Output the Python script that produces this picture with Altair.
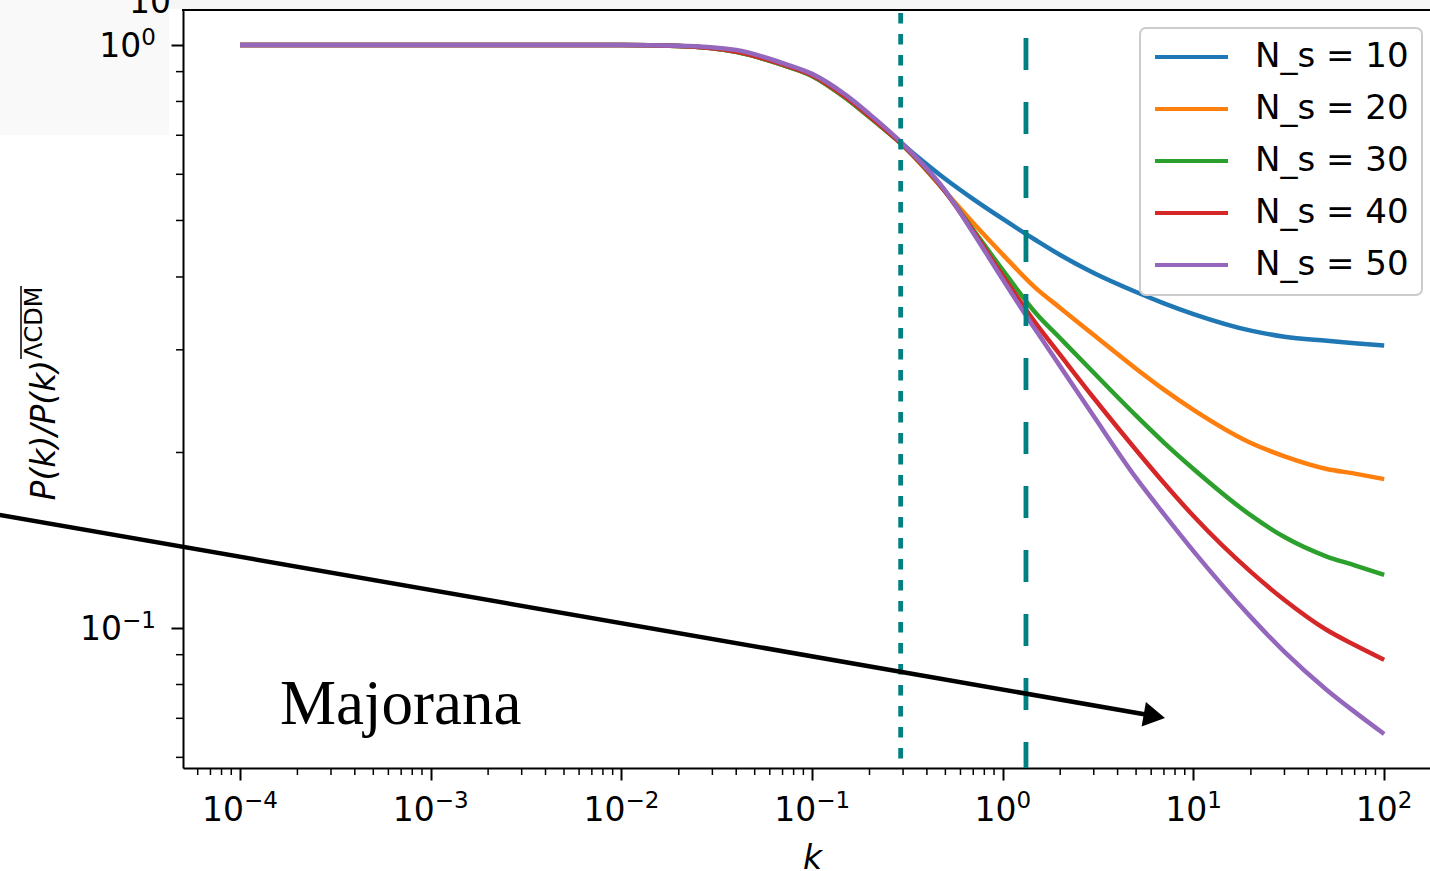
import altair as alt
import pandas as pd

# ---------------- data ----------------
k_values = [1e-4, 1e-3, 1e-2, 0.02, 0.04, 0.07, 0.1, 0.15, 0.2, 0.3, 0.5, 0.7,
            1, 1.5, 2, 3, 5, 7, 10, 20, 30, 50, 70, 100]
series_names = ["N_s = 10", "N_s = 20", "N_s = 30", "N_s = 40", "N_s = 50"]
series_colors = ["#1f77b4", "#ff7f0e", "#2ca02c", "#d62728", "#9467bd"]

ratio_ns10 = [1.0, 1.0, 1.0, 0.996, 0.973, 0.924, 0.885, 0.811, 0.752, 0.674, 0.589, 0.544,
              0.503, 0.462, 0.4363, 0.4064, 0.377, 0.3605, 0.3455, 0.3236, 0.316, 0.311, 0.308, 0.305]
ratio_ns20 = [1.0, 1.0, 1.0, 0.996, 0.973, 0.924, 0.885, 0.811, 0.752, 0.672, 0.560, 0.495,
              0.437, 0.382, 0.354, 0.318, 0.2784, 0.2563, 0.2366, 0.2076, 0.197, 0.1874, 0.184, 0.180]
ratio_ns30 = [1.0, 1.0, 1.0, 0.996, 0.973, 0.924, 0.885, 0.811, 0.752, 0.672, 0.560, 0.482,
              0.411, 0.346, 0.314, 0.274, 0.2313, 0.208, 0.1874, 0.156, 0.1432, 0.1326, 0.1281, 0.1233]
ratio_ns40 = [1.0, 1.0, 1.0, 0.996, 0.974, 0.926, 0.887, 0.814, 0.755, 0.673, 0.560, 0.479,
              0.402, 0.332, 0.294, 0.248, 0.2020, 0.1773, 0.1556, 0.1248, 0.1117, 0.0992, 0.0935, 0.0882]
ratio_ns50 = [1.0, 1.0, 1.0, 0.997, 0.980, 0.931, 0.892, 0.821, 0.761, 0.676, 0.562, 0.476,
              0.396, 0.323, 0.281, 0.2307, 0.1809, 0.1568, 0.1355, 0.1044, 0.0910, 0.0783, 0.0718, 0.0658]

vline_dotted_k = [0.2914]
vline_dashed_k = [1.323]

x_major = [0.0001, 0.001, 0.01, 0.1, 1, 10, 100]
x_major_exp = ["−4", "−3", "−2", "−1", "0", "1", "2"]
x_minor = [m * 10.0 ** e for e in range(-5, 2) for m in range(2, 10)]
y_major = [0.1, 1]
y_major_exp = ["−1", "0"]
y_minor = [0.06, 0.07, 0.08, 0.09, 0.2, 0.3, 0.4, 0.5, 0.6, 0.7, 0.8, 0.9]

x_domain = [5.024e-5, 173.9]
y_domain = [0.05753, 1.148]
x_minor = [v for v in x_minor if x_domain[0] <= v <= x_domain[1]]

arrow_k = [5.19e-6]
arrow_r = [0.1568]
arrow_k2 = [5.915]
arrow_r2 = [0.07087]
arrow_head_k = [6.236]
arrow_head_r = [0.07059]

annot_text = ["Majorana"]
annot_k = [1.62e-4]
annot_r = [0.06844]

# ---------------- build ----------------
rows = []
for name, vals in zip(series_names, [ratio_ns10, ratio_ns20, ratio_ns30, ratio_ns40, ratio_ns50]):
    for kk, v in zip(k_values, vals):
        rows.append({"k": kk, "ratio": v, "series": name})
df = pd.DataFrame(rows)

W, H = 1247, 758
FONT = "DejaVu Sans"
FS = 33          # tick label size
FS_SUP = 23      # exponent size
xs = alt.Scale(type="log", domain=x_domain, nice=False)
ys = alt.Scale(type="log", domain=y_domain, nice=False)

x_axis = alt.Axis(values=x_major, labels=False,
                  tickSize=12, tickWidth=2, tickColor="black", domainColor="black",
                  domainWidth=2, grid=False,
                  title="k", titleFont=FONT, titleFontSize=33, titleFontStyle="italic",
                  titleFontWeight="normal", titleColor="black", titleX=629, titleY=100,
                  titleAlign="center", titleBaseline="alphabetic")
y_axis = alt.Axis(values=y_major, labels=False,
                  tickSize=12, tickWidth=2, tickColor="black", domainColor="black",
                  domainWidth=2, grid=False,
                  title="P(k)/P(k)", titleFont=FONT, titleFontSize=33, titleFontStyle="italic",
                  titleFontWeight="normal", titleColor="black", titleAngle=270,
                  titleX=-129, titleY=490, titleAlign="left", titleBaseline="alphabetic")

one = pd.DataFrame({"a": [0]})
bg_corner = alt.Chart(one).mark_rect(color="#f9f9f9", clip=False).encode(
    x=alt.value(-183), x2=alt.value(-14), y=alt.value(-10), y2=alt.value(125))
bg_strip = alt.Chart(one).mark_rect(color="#f6f6f6", clip=False).encode(
    x=alt.value(-14), x2=alt.value(W + 5), y=alt.value(-10), y2=alt.value(-1))

lines = alt.Chart(df).mark_line(strokeWidth=4.5, clip=True, interpolate="monotone").encode(
    x=alt.X("k:Q", scale=xs, axis=x_axis),
    y=alt.Y("ratio:Q", scale=ys, axis=y_axis),
    color=alt.Color("series:N", scale=alt.Scale(domain=series_names, range=series_colors),
                    legend=alt.Legend(title=None, orient="none", legendX=957, legendY=18,
                                      symbolType="stroke", symbolSize=5329, symbolStrokeWidth=4,
                                      clipHeight=32, rowPadding=18, labelFont=FONT,
                                      labelFontSize=34, labelColor="black", labelOffset=25,
                                      labelLimit=400, padding=13, strokeColor="#cccccc",
                                      fillColor="white", cornerRadius=6)),
)

minor_x = alt.Chart(pd.DataFrame({"k": x_minor})).mark_rule(
    color="black", strokeWidth=1.5, clip=False).encode(
    x=alt.X("k:Q", scale=xs, axis=x_axis), y=alt.value(H), y2=alt.value(H + 7))
minor_y = alt.Chart(pd.DataFrame({"ratio": y_minor})).mark_rule(
    color="black", strokeWidth=1.5, clip=False).encode(
    y=alt.Y("ratio:Q", scale=ys, axis=y_axis), x=alt.value(0), x2=alt.value(-7))

# tick labels: "10" with a raised exponent
base_w = 2 * 0.6362 * FS
def exp_w(neg):
    return (0.838 + 0.6362) * FS_SUP if neg else 0.6362 * FS_SUP

xlab_df = pd.DataFrame({"k": x_major, "exp": x_major_exp,
                        "neg": [e.startswith("−") for e in x_major_exp]})
x_label_layers = []
for neg in (True, False):
    tot = base_w + exp_w(neg)
    sub = xlab_df[xlab_df["neg"] == neg]
    x_label_layers.append(alt.Chart(sub).mark_text(
        text="10", font=FONT, fontSize=FS, align="left", baseline="alphabetic",
        color="black", dx=-tot / 2).encode(
        x=alt.X("k:Q", scale=xs, axis=x_axis), y=alt.value(H + 53)))
    x_label_layers.append(alt.Chart(sub).mark_text(
        font=FONT, fontSize=FS_SUP, align="left", baseline="alphabetic",
        color="black", dx=-tot / 2 + base_w).encode(
        x=alt.X("k:Q", scale=xs, axis=x_axis), y=alt.value(H + 40), text="exp:N"))

ylab_df = pd.DataFrame({"ratio": y_major, "exp": y_major_exp,
                        "neg": [e.startswith("−") for e in y_major_exp]})
y_label_layers = []
for neg in (True, False):
    sub = ylab_df[ylab_df["neg"] == neg]
    y_label_layers.append(alt.Chart(sub).mark_text(
        font=FONT, fontSize=FS_SUP, align="right", baseline="alphabetic",
        color="black").encode(
        y=alt.Y("ratio:Q", scale=ys, axis=y_axis), x=alt.value(-27), text="exp:N"))
    y_label_layers.append(alt.Chart(sub).mark_text(
        text="10", font=FONT, fontSize=FS, align="right", baseline="alphabetic",
        color="black", dy=12).encode(
        y=alt.Y("ratio:Q", scale=ys, axis=y_axis), x=alt.value(-27 - exp_w(neg))))

vdot = alt.Chart(pd.DataFrame({"k": vline_dotted_k})).mark_rule(
    color="#008080", strokeWidth=4.8, strokeDash=[10.5, 10.5], strokeDashOffset=18).encode(
    x=alt.X("k:Q", scale=xs, axis=x_axis))
vdash = alt.Chart(pd.DataFrame({"k": vline_dashed_k})).mark_rule(
    color="#008080", strokeWidth=4.8, strokeDash=[32, 32], strokeDashOffset=36).encode(
    x=alt.X("k:Q", scale=xs, axis=x_axis))

arrow_df = pd.DataFrame({"k": arrow_k, "ratio": arrow_r, "k2": arrow_k2, "r2": arrow_r2})
arrow = alt.Chart(arrow_df).mark_rule(color="black", strokeWidth=4.5, clip=False).encode(
    x=alt.X("k:Q", scale=xs, axis=x_axis), y=alt.Y("ratio:Q", scale=ys, axis=y_axis),
    x2="k2:Q", y2="r2:Q")
head = alt.Chart(pd.DataFrame({"k": arrow_head_k, "ratio": arrow_head_r})).mark_point(
    shape="triangle-right", filled=True, color="black", opacity=1, size=620,
    angle=9.87, clip=False).encode(
    x=alt.X("k:Q", scale=xs, axis=x_axis), y=alt.Y("ratio:Q", scale=ys, axis=y_axis))

annot = alt.Chart(pd.DataFrame({"t": annot_text, "k": annot_k, "ratio": annot_r})).mark_text(
    font="Liberation Serif", fontSize=63, align="left", baseline="alphabetic",
    color="black").encode(
    x=alt.X("k:Q", scale=xs, axis=x_axis), y=alt.Y("ratio:Q", scale=ys, axis=y_axis),
    text="t:N")

sup = alt.Chart(one).mark_text(
    text="ΛCDM", font=FONT, fontSize=24, angle=270, align="left",
    baseline="alphabetic", color="black").encode(x=alt.value(-141), y=alt.value(349))
sup_bar = alt.Chart(one).mark_rule(color="black", strokeWidth=1.5, clip=False).encode(
    x=alt.value(-162), y=alt.value(349), y2=alt.value(276))
top_spine = alt.Chart(one).mark_rule(color="black", strokeWidth=2, clip=False).encode(
    x=alt.value(-1), x2=alt.value(W + 5), y=alt.value(0))
cut_label = alt.Chart(one).mark_text(
    text="10", font=FONT, fontSize=33, align="right", baseline="alphabetic",
    color="black").encode(x=alt.value(-12), y=alt.value(3))

chart = alt.layer(lines, bg_corner, bg_strip, minor_x, minor_y, *x_label_layers,
                  *y_label_layers, vdot, vdash, arrow, head, annot, sup, sup_bar,
                  top_spine, cut_label).properties(
    width=W, height=H,
    autosize=alt.AutoSizeParams(type="none"),
    padding={"left": 183, "top": 10, "right": 0, "bottom": 103},
    background="white",
).configure_view(stroke=None).configure_legend(strokeWidth=2)

chart.save("out.html", embed_options={"renderer": "svg", "actions": False})
